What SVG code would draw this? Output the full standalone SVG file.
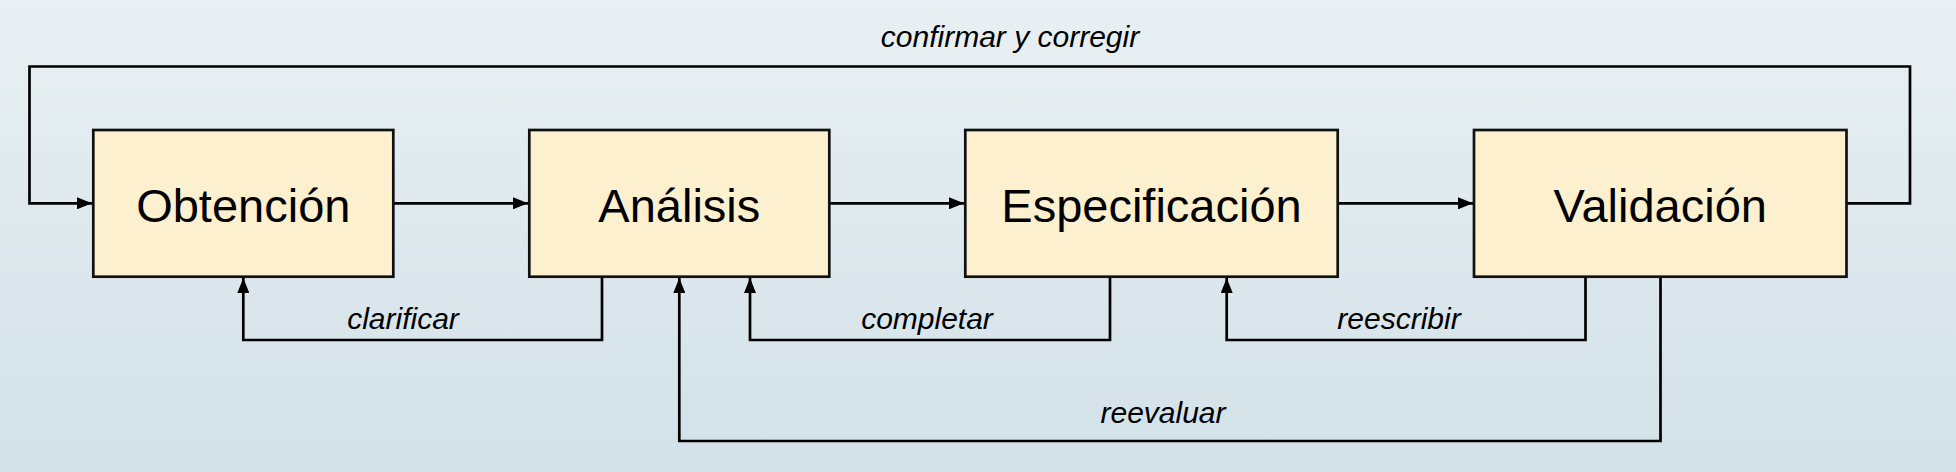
<svg xmlns="http://www.w3.org/2000/svg" width="1956" height="472" viewBox="0 0 1956 472">
<defs>
<linearGradient id="bg" x1="0" y1="0" x2="0" y2="1">
<stop offset="0" stop-color="#e9f0f3"/>
<stop offset="1" stop-color="#d2e1e8"/>
</linearGradient>
<marker id="arr" markerUnits="userSpaceOnUse" markerWidth="16" markerHeight="12" refX="15" refY="6" orient="auto">
<path d="M0,0 L15,6 L0,12 Z" fill="#000"/>
</marker>
<style>
.box{fill:#fcf0cf;stroke:#111;stroke-width:2.7}
.lbl{font-family:"Liberation Sans",Arial,sans-serif;font-size:47px;fill:#000;text-anchor:middle}
.cl{font-family:"Liberation Sans",Arial,sans-serif;font-size:30px;font-style:italic;fill:#000;text-anchor:middle}
.ln{fill:none;stroke:#000;stroke-width:2.7}
</style>
</defs>
<rect width="1956" height="472" fill="url(#bg)"/>
<g id="connectors">
<path class="ln" d="M393.3,203.3 H528" marker-end="url(#arr)"/>
<path class="ln" d="M829.3,203.3 H964" marker-end="url(#arr)"/>
<path class="ln" d="M1337.7,203.3 H1473" marker-end="url(#arr)"/>
<path class="ln" d="M1846.5,203.3 H1910 V66.5 H29.5 V203.3 H92" marker-end="url(#arr)"/>
<path class="ln" d="M602,276.7 V340 H243.3 V278" marker-end="url(#arr)"/>
<path class="ln" d="M1110,276.7 V340 H750 V278" marker-end="url(#arr)"/>
<path class="ln" d="M1585.5,276.7 V340 H1226.7 V278" marker-end="url(#arr)"/>
<path class="ln" d="M1660.5,276.7 V441 H679.3 V278" marker-end="url(#arr)"/>
<text class="cl" x="1010" y="47">confirmar y corregir</text>
<text class="cl" x="403" y="329">clarificar</text>
<text class="cl" x="927" y="329">completar</text>
<text class="cl" x="1399" y="329">reescribir</text>
<text class="cl" x="1163" y="423">reevaluar</text>
</g>
<g id="obtencion">
<rect class="box" x="93.3" y="130" width="300" height="146.7"/>
<text class="lbl" x="243.3" y="221.5">Obtención</text>
</g>
<g id="analisis">
<rect class="box" x="529.3" y="130" width="300" height="146.7"/>
<text class="lbl" x="679.3" y="221.5">Análisis</text>
</g>
<g id="especificacion">
<rect class="box" x="965.3" y="130" width="372.4" height="146.7"/>
<text class="lbl" x="1151.5" y="221.5">Especificación</text>
</g>
<g id="validacion">
<rect class="box" x="1474" y="130" width="372.5" height="146.7"/>
<text class="lbl" x="1660.3" y="221.5">Validación</text>
</g>
</svg>
